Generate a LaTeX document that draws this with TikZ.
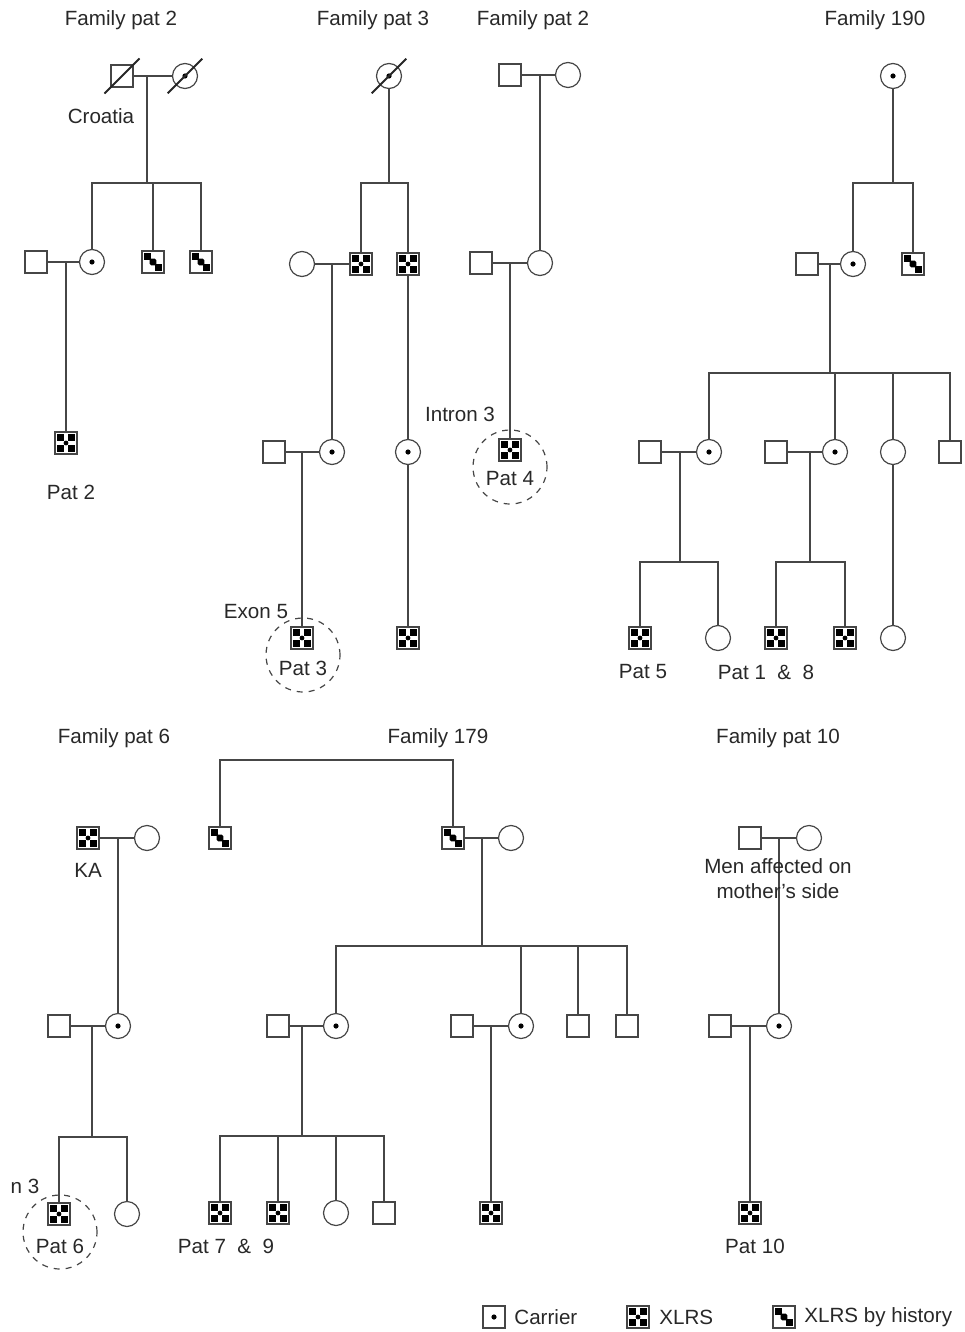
\documentclass[tikz,border=0pt]{standalone}
\usepackage{fontspec}
\setmainfont{Liberation Sans}
\usepackage{xcolor}
\usepackage{tikz}
\usetikzlibrary{calc}
\definecolor{pedline}{RGB}{70,70,70}
\definecolor{pedtext}{RGB}{40,40,40}

\begin{document}
\begin{tikzpicture}[x=0.5pt, y=-0.5pt,
  font=\fontsize{10.3}{12.4}\selectfont,
  ind/.style={draw=pedline, line width=0.6pt, inner sep=0pt, fill=white},
  male/.style={ind, rectangle, minimum size=11pt},
  female/.style={ind, circle, minimum size=12.5pt},
  carrier/.style={female, path picture={\fill[black] (path picture bounding box.center) circle (1.3pt);}},
  carrierkey/.style={male, path picture={\fill[black] (path picture bounding box.center) circle (1.3pt);}},
  xlrs/.style={male, path picture={
    \fill[black] ([shift={(-4.6pt,-4.6pt)}]path picture bounding box.center) rectangle +(3.4pt,3.4pt);
    \fill[black] ([shift={(1.2pt,-4.6pt)}]path picture bounding box.center) rectangle +(3.4pt,3.4pt);
    \fill[black] ([shift={(-4.6pt,1.2pt)}]path picture bounding box.center) rectangle +(3.4pt,3.4pt);
    \fill[black] ([shift={(1.2pt,1.2pt)}]path picture bounding box.center) rectangle +(3.4pt,3.4pt);
    \fill[black] (path picture bounding box.center) circle (1.2pt);}},
  hist/.style={male, path picture={
    \fill[black] ([shift={(-4.5pt,1.2pt)}]path picture bounding box.center) rectangle +(3.3pt,3.3pt);
    \fill[black, rounded corners=0.8pt] ([shift={(-1.7pt,-1.7pt)}]path picture bounding box.center) rectangle +(3.4pt,3.4pt);
    \fill[black] ([shift={(1.2pt,-4.5pt)}]path picture bounding box.center) rectangle +(3.3pt,3.3pt);}},
  rel/.style={draw=pedline, line width=0.6pt},
  dead/.style={draw=black!85, line width=0.9pt},
  lbl/.style={text=pedtext, inner sep=1pt},
  probe/.style={draw=pedline, dashed, line width=0.6pt, circle, minimum size=37pt, inner sep=0pt}]

  \useasboundingbox (0,0) rectangle (964,1332);

  % ---------------- Family pat 2 (left) ----------------
  \node[lbl] (t1) at (121,20) {Family pat 2};
  \node[male] (a1) at (122,76) {};
  \node[carrier] (a2) at (185,76) {};
  \draw[rel] (a1) -- (a2);
  \draw[dead] ($(a1.south west)+(-6,6)$) -- ($(a1.north east)+(6,-6)$);
  \draw[dead] ($(a2.south west)+(-8,8)$) -- ($(a2.north east)+(8,-8)$);
  \node[lbl] (a0) at (101,116) {Croatia};
  \coordinate (a12) at (147,76);
  \coordinate (a12s) at (147,183);
  \node[carrier] (a3) at (92,262) {};
  \node[hist] (a4) at (153,262) {};
  \node[hist] (a5) at (201,262) {};
  \draw[rel] (a12) -- (a12s);
  \draw[rel] (a3.north) |- (a12s) -| (a5.north);
  \draw[rel] (a4.north) -- (a4.north |- a12s);
  \node[male] (a6) at (36,262) {};
  \draw[rel] (a6) -- (a3);
  \coordinate (a63) at (66,262);
  \node[xlrs] (a7) at (66,443) {};
  \draw[rel] (a63) -- (a7.north);
  \node[lbl] (a7l) at (71,492) {Pat 2};

  % ---------------- Family pat 3 ----------------
  \node[lbl] (t2) at (373,20) {Family pat 3};
  \node[carrier] (b1) at (389,76) {};
  \draw[dead] ($(b1.south west)+(-8,8)$) -- ($(b1.north east)+(8,-8)$);
  \coordinate (b1s) at (389,183);
  \draw[rel] (b1) -- (b1s);
  \node[xlrs] (b2) at (361,264) {};
  \node[xlrs] (b3) at (408,264) {};
  \draw[rel] (b2.north) |- (b1s) -| (b3.north);
  \node[female] (b4) at (302,264) {};
  \draw[rel] (b4) -- (b2);
  \coordinate (b42) at (332,264);
  \node[carrier] (b5) at (332,452) {};
  \draw[rel] (b42) -- (b5);
  \node[male] (b6) at (274,452) {};
  \draw[rel] (b6) -- (b5);
  \coordinate (b65) at (302,452);
  \node[xlrs] (b7) at (302,638) {};
  \draw[rel] (b65) -- (b7);
  \node[carrier] (b8) at (408,452) {};
  \draw[rel] (b3) -- (b8);
  \node[xlrs] (b9) at (408,638) {};
  \draw[rel] (b8) -- (b9);
  \node[probe] (b10) at (303,655) {};
  \node[lbl] (b7l) at (303,668) {Pat 3};
  \node[lbl] (b7m) at (256,612) {Exon 5};

  % ---------------- Family pat 2 (middle) ----------------
  \node[lbl] (t3) at (533,20) {Family pat 2};
  \node[male] (c1) at (510,75) {};
  \node[female] (c2) at (568,75) {};
  \draw[rel] (c1) -- (c2);
  \coordinate (c12) at (540,75);
  \node[female] (c3) at (540,263) {};
  \draw[rel] (c12) -- (c3);
  \node[male] (c4) at (481,263) {};
  \draw[rel] (c4) -- (c3);
  \coordinate (c43) at (510,263);
  \node[xlrs] (c5) at (510,450) {};
  \draw[rel] (c43) -- (c5);
  \node[probe] (c6) at (510,467) {};
  \node[lbl] (c5l) at (510,479) {Pat 4};
  \node[lbl] (c5m) at (460,414) {Intron 3};

  % ---------------- Family 190 ----------------
  \node[lbl] (t4) at (875,20) {Family 190};
  \node[carrier] (d1) at (893,76) {};
  \coordinate (d1s) at (893,183);
  \draw[rel] (d1) -- (d1s);
  \node[carrier] (d2) at (853,264) {};
  \node[hist] (d3) at (913,264) {};
  \draw[rel] (d2.north) |- (d1s) -| (d3.north);
  \node[male] (d4) at (807,264) {};
  \draw[rel] (d4) -- (d2);
  \coordinate (d42) at (830,264);
  \coordinate (d42s) at (830,373);
  \draw[rel] (d42) -- (d42s);
  \node[carrier] (d5) at (709,452) {};
  \node[carrier] (d6) at (835,452) {};
  \node[female] (d7) at (893,452) {};
  \node[male] (d8) at (950,452) {};
  \draw[rel] (d5.north) |- (d42s) -| (d8.north);
  \draw[rel] (d6.north) -- (d6.north |- d42s);
  \draw[rel] (d7.north) -- (d7.north |- d42s);
  \node[male] (d9) at (650,452) {};
  \draw[rel] (d9) -- (d5);
  \coordinate (d95) at (680,452);
  \coordinate (d95s) at (680,562);
  \node[xlrs] (d10) at (640,638) {};
  \node[female] (d11) at (718,638) {};
  \draw[rel] (d95) -- (d95s);
  \draw[rel] (d10.north) |- (d95s) -| (d11.north);
  \node[male] (d12) at (776,452) {};
  \draw[rel] (d12) -- (d6);
  \coordinate (d126) at (810,452);
  \coordinate (d126s) at (810,562);
  \node[xlrs] (d13) at (776,638) {};
  \node[xlrs] (d14) at (845,638) {};
  \draw[rel] (d126) -- (d126s);
  \draw[rel] (d13.north) |- (d126s) -| (d14.north);
  \node[female] (d15) at (893,638) {};
  \draw[rel] (d7) -- (d15);
  \node[lbl] (d10l) at (643,672) {Pat 5};
  \node[lbl] (d13l) at (766,672) {Pat 1~~\&~~8};

  % ---------------- Family pat 6 ----------------
  \node[lbl] (t5) at (114,738) {Family pat 6};
  \node[xlrs] (e1) at (88,838) {};
  \node[female] (e2) at (147,838) {};
  \draw[rel] (e1) -- (e2);
  \coordinate (e12) at (118,838);
  \node[lbl] (e1l) at (88,870) {KA};
  \node[carrier] (e3) at (118,1026) {};
  \draw[rel] (e12) -- (e3);
  \node[male] (e4) at (59,1026) {};
  \draw[rel] (e4) -- (e3);
  \coordinate (e43) at (92,1026);
  \coordinate (e43s) at (92,1137);
  \node[xlrs] (e5) at (59,1214) {};
  \node[female] (e6) at (127,1214) {};
  \draw[rel] (e43) -- (e43s);
  \draw[rel] (e5.north) |- (e43s) -| (e6.north);
  \node[probe] (e7) at (60,1232) {};
  \node[lbl] (e5l) at (60,1246) {Pat 6};
  \node[lbl] (e5m) at (25,1186) {n 3};

  % ---------------- Family 179 ----------------
  \node[lbl] (t6) at (438,738) {Family 179};
  \coordinate (f0) at (336,760);
  \node[hist] (f1) at (220,838) {};
  \node[hist] (f2) at (453,838) {};
  \draw[rel] (f1.north) |- (f0) -| (f2.north);
  \node[female] (f3) at (511,838) {};
  \draw[rel] (f2) -- (f3);
  \coordinate (f23) at (482,838);
  \coordinate (f23s) at (482,946);
  \draw[rel] (f23) -- (f23s);
  \node[carrier] (f4) at (336,1026) {};
  \node[carrier] (f5) at (521,1026) {};
  \node[male] (f6) at (578,1026) {};
  \node[male] (f7) at (627,1026) {};
  \draw[rel] (f4.north) |- (f23s) -| (f7.north);
  \draw[rel] (f5.north) -- (f5.north |- f23s);
  \draw[rel] (f6.north) -- (f6.north |- f23s);
  \node[male] (f8) at (278,1026) {};
  \draw[rel] (f8) -- (f4);
  \coordinate (f84) at (302,1026);
  \coordinate (f84s) at (302,1136);
  \draw[rel] (f84) -- (f84s);
  \node[xlrs] (f9) at (220,1213) {};
  \node[xlrs] (f10) at (278,1213) {};
  \node[female] (f11) at (336,1213) {};
  \node[male] (f12) at (384,1213) {};
  \draw[rel] (f9.north) |- (f84s) -| (f12.north);
  \draw[rel] (f10.north) -- (f10.north |- f84s);
  \draw[rel] (f11.north) -- (f11.north |- f84s);
  \node[male] (f13) at (462,1026) {};
  \draw[rel] (f13) -- (f5);
  \coordinate (f135) at (491,1026);
  \node[xlrs] (f14) at (491,1213) {};
  \draw[rel] (f135) -- (f14);
  \node[lbl] (f9l) at (226,1246) {Pat 7~~\&~~9};

  % ---------------- Family pat 10 ----------------
  \node[lbl] (t7) at (778,738) {Family pat 10};
  \node[male] (g1) at (750,838) {};
  \node[female] (g2) at (809,838) {};
  \draw[rel] (g1) -- (g2);
  \coordinate (g12) at (779,838);
  \node[carrier] (g3) at (779,1026) {};
  \draw[rel] (g12) -- (g3);
  \node[lbl, align=center] (g0) at (778,879) {Men affected on\\mother’s side};
  \node[male] (g4) at (720,1026) {};
  \draw[rel] (g4) -- (g3);
  \coordinate (g43) at (750,1026);
  \node[xlrs] (g5) at (750,1213) {};
  \draw[rel] (g43) -- (g5);
  \node[lbl] (g5l) at (755,1246) {Pat 10};

  % ---------------- Legend ----------------
  \node[carrierkey] (k1) at (494,1317) {};
  \node[lbl, anchor=west] (k1l) at (512,1317) {Carrier};
  \node[xlrs] (k2) at (638,1317) {};
  \node[lbl, anchor=west] (k2l) at (657,1317) {XLRS};
  \node[hist] (k3) at (784,1317) {};
  \node[lbl, anchor=west] (k3l) at (802,1317) {XLRS by history};

\end{tikzpicture}
\end{document}
